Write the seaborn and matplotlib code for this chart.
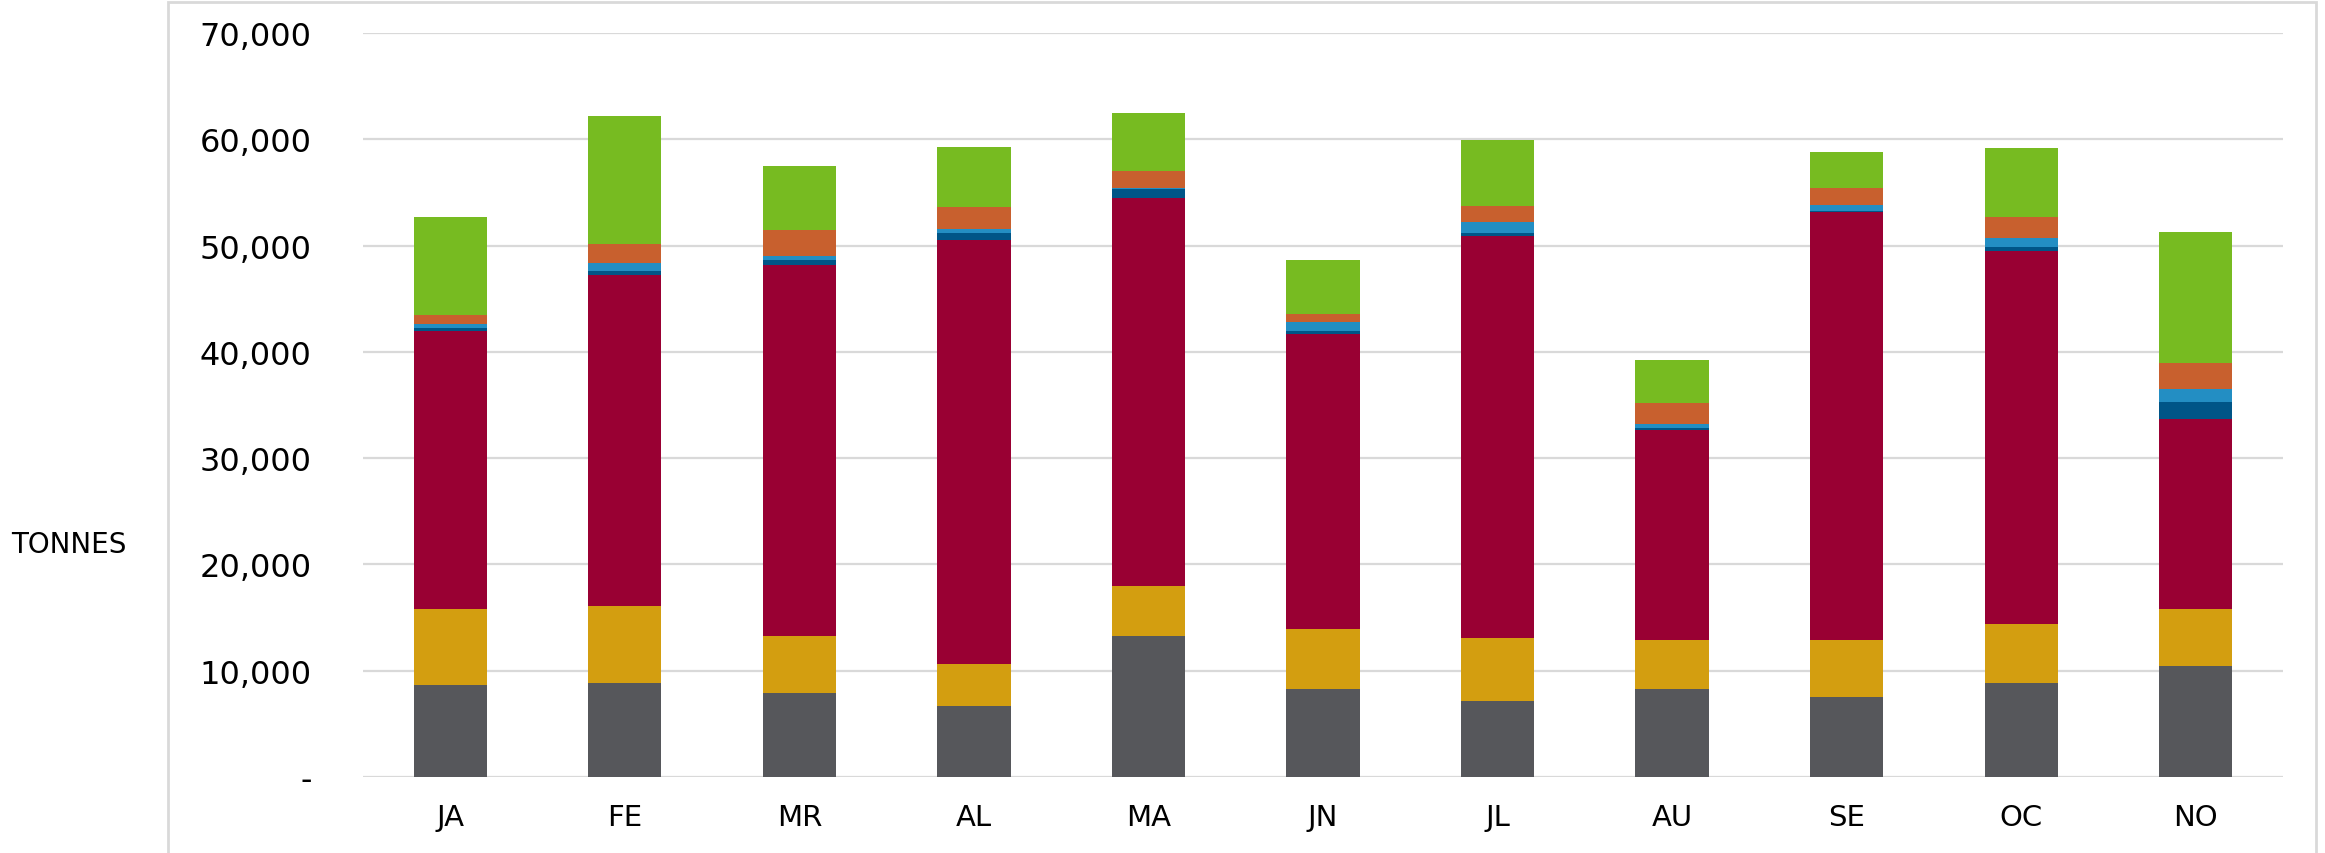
import seaborn as sns
import matplotlib.pyplot as plt
import matplotlib.ticker as mticker
from matplotlib.patches import Rectangle
import pandas as pd
import numpy as np

# monthly tonnes, stacked bottom -> top
months = ["JA", "FE", "MR", "AL", "MA", "JN", "JL", "AU", "SE", "OC", "NO"]
gray = [8680, 8830, 7890, 6660, 13310, 8300, 7190, 8300, 7480, 8830, 10470]
gold = [7090, 7230, 5420, 3940, 4640, 5580, 5870, 4630, 5450, 5590, 5330]
crimson = [26150, 31170, 34900, 39900, 36520, 27790, 37850, 19760, 40200, 35070, 17840]
dark_blue = [340, 410, 410, 660, 810, 280, 280, 190, 140, 410, 1610]
light_blue = [350, 690, 410, 440, 130, 820, 1070, 340, 530, 810, 1240]
orange = [850, 1800, 2420, 2050, 1630, 810, 1420, 1940, 1640, 2020, 2500]
green = [9240, 12070, 6000, 5580, 5480, 5070, 6230, 4060, 3400, 6480, 12310]

series = [gray, gold, crimson, dark_blue, light_blue, orange, green]
colors = ["#56575B", "#D39E10", "#990033", "#005587", "#238EC3", "#C8602E", "#77BB21"]

sns.set_style("white")
plt.rcParams['font.family'] = ['DejaVu Sans']
plt.rcParams['text.color'] = 'black'
plt.rcParams['xtick.color'] = 'black'
plt.rcParams['ytick.color'] = 'black'

fig = plt.figure(figsize=(23.25, 8.54), dpi=100)
ax = fig.add_axes([363 / 2325, 1 - 778 / 854, 1920 / 2325, 744 / 854])

# cumulative totals, draw tallest first so lower stacks sit on top
cum = np.cumsum(np.array(series), axis=0)
for i in range(len(series) - 1, -1, -1):
    df = pd.DataFrame({"month": months, "tonnes": cum[i]})
    sns.barplot(data=df, x="month", y="tonnes", order=months, color=colors[i],
                width=0.42, saturation=1, linewidth=0, ax=ax)

ax.set_ylim(0, 70000)
ax.set_xlim(-0.5, len(months) - 0.5)
ax.set_yticks(range(0, 70001, 10000))
ax.yaxis.set_major_formatter(mticker.FuncFormatter(lambda v, p: "-" if v == 0 else f"{int(v):,}"))
ax.grid(axis="y", color="#D9D9D9", linewidth=1.6)
ax.set_axisbelow(True)
for s in ax.spines.values():
    s.set_visible(False)
ax.tick_params(axis="y", length=0, pad=37, labelsize=23, labelcolor="black")
ax.tick_params(axis="x", length=0, pad=19, labelsize=21, labelcolor="black")
ax.set_xlabel("")
ax.set_ylabel("")

fig.text(11 / 2325, 1 - 545 / 854, "TONNES", fontsize=20, ha="left", va="center", color="black")

# outer chart frame
fig.patches.append(Rectangle((168 / 2325, -0.05), (2316 - 168) / 2325, 1.05 - 3 / 854,
                             transform=fig.transFigure, fill=False,
                             edgecolor="#D9D9D9", linewidth=2))

plt.savefig("out.png", dpi=100)
